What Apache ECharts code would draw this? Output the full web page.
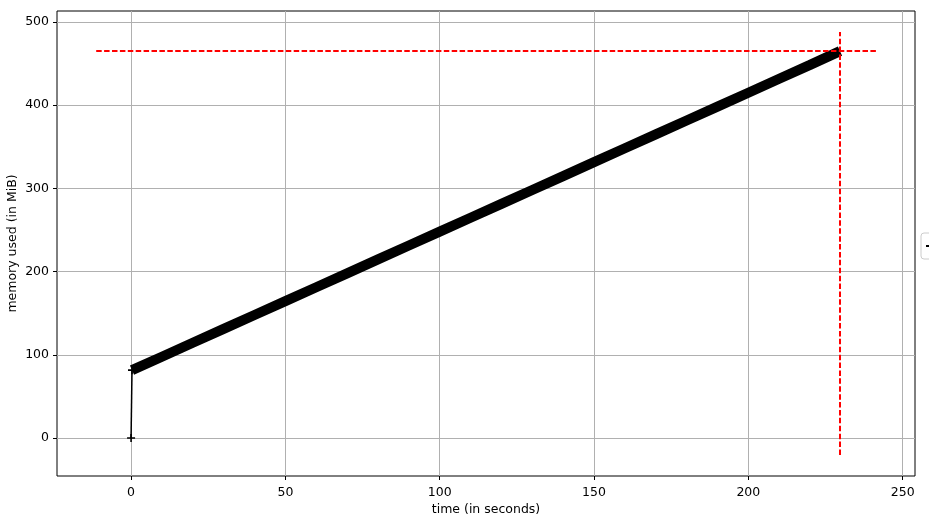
<!DOCTYPE html>
<html><head><meta charset="utf-8">
<script src="https://cdn.jsdelivr.net/npm/echarts@6/dist/echarts.min.js"></script>
<style>html,body{margin:0;padding:0;background:#fff}#c{width:929px;height:517px}</style>
</head><body><div id="c"></div>
<script>
// time (s) and memory (MiB)
const startTimes = [0, 0.3];
const startMem = [0, 81.5];
const times = [0.3, 10, 20, 30, 40, 50, 60, 70, 80, 90, 100, 110, 120, 130, 140, 150, 160, 170, 180, 190, 200, 210, 220, 229.7];
const memory = [81.5, 97.7, 114.4, 131.1, 147.8, 164.5, 181.2, 197.9, 214.6, 231.3, 248, 264.7, 281.4, 298.1, 314.8, 331.5, 348.2, 364.9, 381.6, 398.3, 415, 431.7, 448.4, 465];
const maxMemLineX = [-11.3, 241.4];
const maxMemLineY = [465, 465];
const maxTimeLineX = [229.7, 229.7];
const maxTimeLineY = [-20.4, 488];
const xRange = [-24, 254];
const yRange = [-45.7, 513.2];

const plus = 'path://M4,0h2v4h4v2h-4v4h-2v-4h-4v-2h4z';
const zip = (a, b) => a.map((v, i) => [v, b[i]]);
const font = 'DejaVu Sans';

const chart = echarts.init(document.getElementById('c'), null, {renderer: 'canvas'});
chart.setOption({
  animation: false,
  textStyle: {fontFamily: font},
  grid: {left: 57, right: 14, top: 11, bottom: 41, show: true, borderColor: '#000', borderWidth: 1,
         backgroundColor: 'transparent', containLabel: false, outerBoundsMode: 'none'},
  legend: {
    left: 921, top: 233, orient: 'vertical', padding: [7, 5], itemWidth: 20, itemHeight: 2,
    borderColor: '#ccc', borderWidth: 1, borderRadius: 3, backgroundColor: '#fff',
    textStyle: {fontFamily: font, fontSize: 12, color: '#000'},
    data: [{name: 'memory', icon: 'rect', itemStyle: {color: '#000'}}]
  },
  xAxis: {
    type: 'value', min: xRange[0], max: xRange[1], splitNumber: 6,
    name: 'time (in seconds)', nameLocation: 'middle', nameGap: 27, nameMoveOverlap: false,
    nameTextStyle: {fontFamily: font, fontSize: 12.5, color: '#000'},
    axisLine: {show: false, onZero: false},
    axisTick: {show: true, inside: false, length: 4, lineStyle: {color: '#000'}},
    axisLabel: {fontFamily: font, fontSize: 12.5, color: '#000', margin: 10, showMinLabel: false, showMaxLabel: false},
    splitLine: {show: true, showMinLine: false, showMaxLine: false, lineStyle: {color: '#b0b0b0', width: 1}}
  },
  yAxis: {
    type: 'value', min: yRange[0], max: yRange[1], splitNumber: 6,
    name: 'memory used (in MiB)', nameLocation: 'middle', nameGap: 38, nameRotate: 90, nameMoveOverlap: false,
    nameTextStyle: {fontFamily: font, fontSize: 12.5, color: '#000'},
    axisLine: {show: false, onZero: false},
    axisTick: {show: true, inside: false, length: 4, lineStyle: {color: '#000'}},
    axisLabel: {fontFamily: font, fontSize: 12.5, color: '#000', margin: 8, showMinLabel: false, showMaxLabel: false},
    splitLine: {show: true, showMinLine: false, showMaxLine: false, lineStyle: {color: '#b0b0b0', width: 1}}
  },
  series: [
    {
      name: 'memory', type: 'line', data: zip(startTimes, startMem),
      lineStyle: {color: '#000', width: 1.5}, itemStyle: {color: '#000'},
      symbol: plus, symbolSize: 8, showSymbol: true, z: 3
    },
    {
      name: 'memory', type: 'line', data: zip(times, memory),
      lineStyle: {color: '#000', width: 10, cap: 'butt'}, itemStyle: {color: '#000'},
      symbol: plus, symbolSize: 9, showSymbol: false, z: 3
    },
    {
      name: 'maxmem', type: 'line', data: zip(maxMemLineX, maxMemLineY),
      lineStyle: {color: '#ff0000', width: 2, type: [5.5, 2.4]}, symbol: 'none', z: 4
    },
    {
      name: 'maxtime', type: 'line', data: zip(maxTimeLineX, maxTimeLineY),
      lineStyle: {color: '#ff0000', width: 2, type: [5.5, 2.4]}, symbol: 'none', z: 4
    }
  ]
});
</script></body></html>
